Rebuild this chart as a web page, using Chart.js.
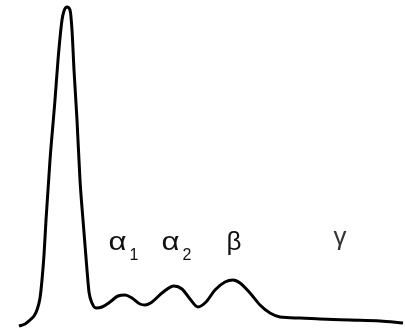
<!DOCTYPE html>
<html>
<head>
<meta charset="utf-8">
<script src="https://cdn.jsdelivr.net/npm/chart.js@4/dist/chart.umd.min.js"></script>
<style>
  html, body { margin: 0; padding: 0; background: #fff; }
  canvas { display: block; }
</style>
</head>
<body>
<canvas id="c" width="405" height="334"></canvas>
<script>
// densitometry trace: mobility (x) vs optical density (y)
const mobility = [19, 25, 30, 34, 37, 40, 42, 44, 46, 50, 55, 58, 62, 64, 67, 70, 72, 74, 77, 80, 83, 85, 87, 89, 92, 96,
  102, 110, 118, 125, 132, 140, 145, 152, 162, 174, 182, 190, 198, 206, 215, 225, 233, 240, 250, 260, 270, 280,
  300, 320, 350, 380, 403];
const density = [8, 10, 14, 18, 24, 36, 54, 79, 114, 174, 234, 274, 314, 323, 327, 324, 304, 264, 214, 154, 114, 89, 64, 42, 31, 26,
  27, 32, 38, 39, 36, 30, 29, 32, 41, 48, 45, 35, 27, 32, 44, 52, 54, 51, 41, 29, 21, 17,
  16, 15, 14, 13, 11];

// fraction labels
const fractionNames = ['α', 'α', 'β', 'γ'];
const fractionSubs = ['1', '2', '', ''];
const fractionX = [123, 176, 234, 340];
const fractionY = [84, 84, 84, 89];

const trace = mobility.map((x, i) => ({x: x, y: density[i]}));

const fractionLabels = {
  id: 'fractionLabels',
  afterDatasetsDraw(chart) {
    const ctx = chart.ctx;
    const xs = chart.scales.x, ys = chart.scales.y;
    ctx.save();
    ctx.textBaseline = 'alphabetic';
    fractionNames.forEach((name, i) => {
      const px = xs.getPixelForValue(fractionX[i]);
      const py = ys.getPixelForValue(fractionY[i]);
      if (name === 'γ') {
        ctx.fillStyle = '#333';
        ctx.font = '26px "Liberation Sans", Arial, sans-serif';
        ctx.textAlign = 'center';
        ctx.fillText(name, px, py);
        ctx.textAlign = 'left';
        return;
      }
      ctx.fillStyle = '#111';
      const stretch = name === 'α' ? 1.2 : 1;
      ctx.font = '26px "Liberation Sans", Arial, sans-serif';
      const w = ctx.measureText(name).width * stretch;
      ctx.font = '16px "Liberation Sans", Arial, sans-serif';
      const sw = fractionSubs[i] ? ctx.measureText(fractionSubs[i]).width + 2 : 0;
      const left = px - (w + sw) / 2;
      ctx.save();
      ctx.translate(left, py);
      ctx.scale(stretch, 1);
      ctx.font = '26px "Liberation Sans", Arial, sans-serif';
      ctx.fillText(name, 0, 0);
      ctx.restore();
      if (fractionSubs[i]) {
        ctx.font = '16px "Liberation Sans", Arial, sans-serif';
        ctx.fillText(fractionSubs[i], left + w + 3, py + 10);
      }
    });
    ctx.restore();
  }
};

new Chart(document.getElementById('c'), {
  type: 'line',
  data: {
    datasets: [{
      data: trace,
      borderColor: '#000',
      borderWidth: 3,
      pointRadius: 0,
      fill: false,
      cubicInterpolationMode: 'monotone',
      clip: false
    }]
  },
  options: {
    responsive: false,
    animation: false,
    layout: { padding: 0 },
    plugins: { legend: { display: false }, tooltip: { enabled: false } },
    scales: {
      x: { type: 'linear', min: 0, max: 405, display: false },
      y: { type: 'linear', min: 0, max: 334, display: false }
    }
  },
  plugins: [fractionLabels]
});
</script>
</body>
</html>
